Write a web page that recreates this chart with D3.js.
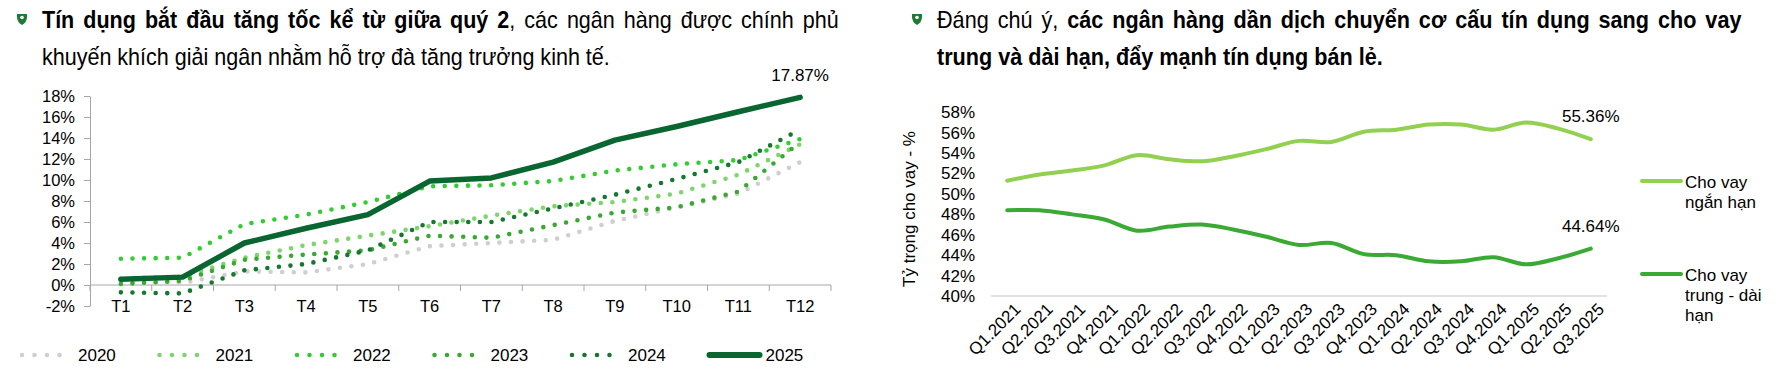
<!DOCTYPE html>
<meta charset="utf-8">
<script src="https://d3js.org/d3.v7.min.js"></script>
<style>
  body { margin: 0; background: #fff; }
  svg text { font-family: "Liberation Sans", Arial, sans-serif; fill: #000; }
  .ttl text { font-family: "Liberation Sans Narrow", "Arial Narrow", "Liberation Sans", sans-serif; font-size: 23px; }
</style>
<body>
<div id="chart"></div>
<script>
// ---- data: left chart (credit growth YTD, %)
const months = ["T1","T2","T3","T4","T5","T6","T7","T8","T9","T10","T11","T12"];
const y2020 = [0.3, 0.2, 1.3, 1.2, 2.0, 3.7, 4.0, 4.3, 6.1, 7.4, 8.7, 11.7];
const y2021 = [0.6, 0.8, 2.6, 3.8, 4.7, 5.6, 6.6, 7.5, 7.9, 8.7, 10.5, 13.4];
const y2022 = [2.5, 2.6, 5.8, 6.7, 7.9, 9.4, 9.5, 9.9, 10.9, 11.5, 11.9, 13.9];
const y2023 = [0.1, 0.4, 2.4, 2.9, 3.3, 4.7, 4.5, 5.7, 6.9, 7.4, 8.9, 13.6];
const y2024 = [-0.7, -0.8, 1.4, 2.0, 3.3, 6.0, 6.0, 7.3, 8.6, 10.1, 11.7, 14.8];
const y2025 = [0.55, 0.75, 4.0, 5.4, 6.7, 9.9, 10.2, 11.7, 13.8, 15.1, 16.5, 17.87];
const years = ["2020","2021","2022","2023","2024","2025"];
const yearColors = ["#cfcfcf","#7dd66b","#33cc33","#3aa832","#15782f","#0a6630"];

// ---- data: right chart (loan mix by term, %)
const quarters = ["Q1.2021","Q2.2021","Q3.2021","Q4.2021","Q1.2022","Q2.2022","Q3.2022","Q4.2022",
  "Q1.2023","Q2.2023","Q3.2023","Q4.2023","Q1.2024","Q2.2024","Q3.2024","Q4.2024","Q1.2025","Q2.2025","Q3.2025"];
const shortTerm = [51.3, 51.9, 52.3, 52.8, 53.8, 53.4, 53.2, 53.7, 54.4, 55.2, 55.1, 56.1, 56.3, 56.8, 56.8, 56.3, 57.0, 56.4, 55.36];
const longTerm = [48.4, 48.4, 48.0, 47.5, 46.4, 46.8, 47.0, 46.5, 45.8, 45.0, 45.2, 44.1, 44.0, 43.4, 43.4, 43.8, 43.1, 43.7, 44.64];
const termNames = [["Cho vay","ngắn hạn"], ["Cho vay","trung - dài","hạn"]];
const termColors = ["#92d050","#3aaa35"];

const svg = d3.select("#chart").append("svg")
  .attr("width", 1780).attr("height", 371);

const FL = "16.5px", FR = "17px";
const styleText = (sel, size) => sel.attr("font-size", size).attr("fill", "#000")
  .style("font-family", "Liberation Sans, Arial, sans-serif");

// ---------- titles
function pin(cx, cy) {
  svg.append("path")
    .attr("d", `M${cx-5},${cy-5} h10 v3 q0,5 -5,8 q-5,-3 -5,-8 z`)
    .attr("fill", "#1e7b34");
  svg.append("circle").attr("cx", cx).attr("cy", cy - 1.5).attr("r", 1.8).attr("fill", "#fff");
}

function title(x, w1, w2, line1, line2) {
  const g = svg.append("g").attr("class", "ttl");
  const t1 = g.append("text").attr("y", 20).attr("dy", "0.35em");
  line1.forEach(r => t1.append("tspan").attr("font-weight", r[1] ? "bold" : "normal").text(r[0]));
  const t2 = g.append("text").attr("y", 57).attr("dy", "0.35em");
  line2.forEach(r => t2.append("tspan").attr("font-weight", r[1] ? "bold" : "normal").text(r[0]));
  const s = w2 / t2.node().getComputedTextLength();
  const full = line1.map(r => r[0]).join("");
  const gaps = full.trim().split(/\s+/).length - 1;
  const ws = (w1 / s - t1.node().getComputedTextLength()) / gaps;
  t1.style("word-spacing", ws + "px");
  g.attr("transform", `translate(${x},0) scale(${s},1)`);
}

pin(22, 19);
title(42, 797, 568,
  [["Tín dụng bắt đầu tăng tốc kể từ giữa quý 2", true], [", các ngân hàng được chính phủ", false]],
  [["khuyến khích giải ngân nhằm hỗ trợ đà tăng trưởng kinh tế.", false]]);

pin(917, 19);
title(937, 805, 446,
  [["Đáng chú ý, ", false], ["các ngân hàng dần dịch chuyển cơ cấu tín dụng sang cho vay", true]],
  [["trung và dài hạn, đẩy mạnh tín dụng bán lẻ.", true]]);

// ---------- left chart
const xL = d3.scaleBand().domain(months).range([90, 831]);
const yL = d3.scaleLinear().domain([-2, 18]).range([306, 96]);

svg.append("g")
  .attr("transform", "translate(90,0)")
  .call(d3.axisLeft(yL).tickValues(d3.range(-2, 19, 2)).tickSize(6).tickSizeOuter(0)
    .tickPadding(9).tickFormat(d => d + "%"))
  .call(g => g.selectAll("line,.domain").attr("stroke", "#a6a6a6"))
  .call(g => styleText(g.selectAll("text"), FL));

const gx = svg.append("g").attr("transform", `translate(0,${yL(0)})`);
gx.append("line").attr("x1", 90).attr("x2", 831).attr("stroke", "#a6a6a6");
gx.selectAll("line.tk").data(d3.range(months.length + 1)).join("line")
  .attr("class", "tk")
  .attr("x1", i => xL.range()[0] + i * xL.step())
  .attr("x2", i => xL.range()[0] + i * xL.step())
  .attr("y1", 0).attr("y2", 6).attr("stroke", "#a6a6a6");
svg.append("g")
  .attr("transform", `translate(0,${yL(0)})`)
  .call(d3.axisBottom(xL).tickSize(0).tickPadding(15))
  .call(g => g.select(".domain").remove())
  .call(g => styleText(g.selectAll("text"), FL));

const lineL = d3.line()
  .x((d, i) => xL(months[i]) + xL.bandwidth() / 2)
  .y(d => yL(d));

const seriesL = [y2020, y2021, y2022, y2023, y2024, y2025];
seriesL.forEach((vals, k) => {
  const solid = k === 5;
  svg.append("path")
    .datum(vals)
    .attr("d", lineL)
    .attr("fill", "none")
    .attr("stroke", yearColors[k])
    .attr("stroke-width", solid ? 5.5 : 4.6)
    .attr("stroke-linecap", "round")
    .attr("stroke-linejoin", "round")
    .attr("stroke-dasharray", solid ? null : "0 11.6");
});

svg.append("text")
  .attr("x", xL("T12") + xL.bandwidth() / 2).attr("y", yL(y2025[11]) - 22)
  .attr("dy", "0.35em")
  .attr("text-anchor", "middle").attr("font-size", FR)
  .text(y2025[11].toFixed(2) + "%");

// legend left
years.forEach((yr, k) => {
  const lx = 22 + k * 137.5, ly = 355;
  svg.append("line")
    .attr("x1", lx).attr("x2", lx + 50).attr("y1", ly).attr("y2", ly)
    .attr("stroke", yearColors[k])
    .attr("stroke-width", k === 5 ? 6 : 4.6)
    .attr("stroke-linecap", "round")
    .attr("stroke-dasharray", k === 5 ? null : "0 12.5");
  svg.append("text")
    .attr("x", lx + 56).attr("y", ly).attr("dy", "0.35em")
    .attr("font-size", FR).text(yr);
});

// ---------- right chart
const xR = d3.scaleBand().domain(quarters).range([991, 1607]);
const yR = d3.scaleLinear().domain([40, 58]).range([296, 112.3]);

svg.append("g")
  .attr("transform", "translate(991,0)")
  .call(d3.axisLeft(yR).tickValues(d3.range(40, 59, 2)).tickSize(0).tickPadding(16)
    .tickFormat(d => d + "%"))
  .call(g => g.select(".domain").remove())
  .call(g => styleText(g.selectAll("text"), FR));

svg.append("line")
  .attr("x1", 991).attr("x2", 1607).attr("y1", yR(40)).attr("y2", yR(40))
  .attr("stroke", "#d9d9d9").attr("stroke-width", 1.5);

svg.append("g")
  .attr("transform", `translate(0,${yR(40)})`)
  .call(d3.axisBottom(xR).tickSize(0).tickPadding(0))
  .call(g => g.select(".domain").remove())
  .call(g => styleText(g.selectAll("text"), FR)
    .attr("text-anchor", "end")
    .attr("dy", "0.7em")
    .attr("transform", "translate(6,6) rotate(-45)"));

svg.append("text")
  .attr("transform", "translate(915,209) rotate(-90)")
  .attr("text-anchor", "middle").attr("font-size", FR)
  .text("Tỷ trọng cho vay - %");

const lineR = d3.line()
  .x((d, i) => xR(quarters[i]) + xR.bandwidth() / 2)
  .y(d => yR(d))
  .curve(d3.curveCatmullRom.alpha(0.5));

[shortTerm, longTerm].forEach((vals, k) => {
  svg.append("path")
    .datum(vals)
    .attr("d", lineR)
    .attr("fill", "none")
    .attr("stroke", termColors[k])
    .attr("stroke-width", 4)
    .attr("stroke-linecap", "round");
  const last = vals.length - 1;
  svg.append("text")
    .attr("x", xR(quarters[last]) + xR.bandwidth() / 2)
    .attr("y", yR(vals[last]) - 23).attr("dy", "0.35em")
    .attr("text-anchor", "middle").attr("font-size", FR)
    .text(vals[last].toFixed(2) + "%");
});

// legend right
termNames.forEach((lines, k) => {
  const ly = k === 0 ? 181 : 274;
  svg.append("line")
    .attr("x1", 1642).attr("x2", 1681).attr("y1", ly).attr("y2", ly)
    .attr("stroke", termColors[k]).attr("stroke-width", 4).attr("stroke-linecap", "round");
  lines.forEach((t, j) => {
    svg.append("text")
      .attr("x", 1685).attr("y", ly + 1 + j * 20).attr("dy", "0.35em")
      .attr("font-size", FR).text(t);
  });
});
</script>
</body>
